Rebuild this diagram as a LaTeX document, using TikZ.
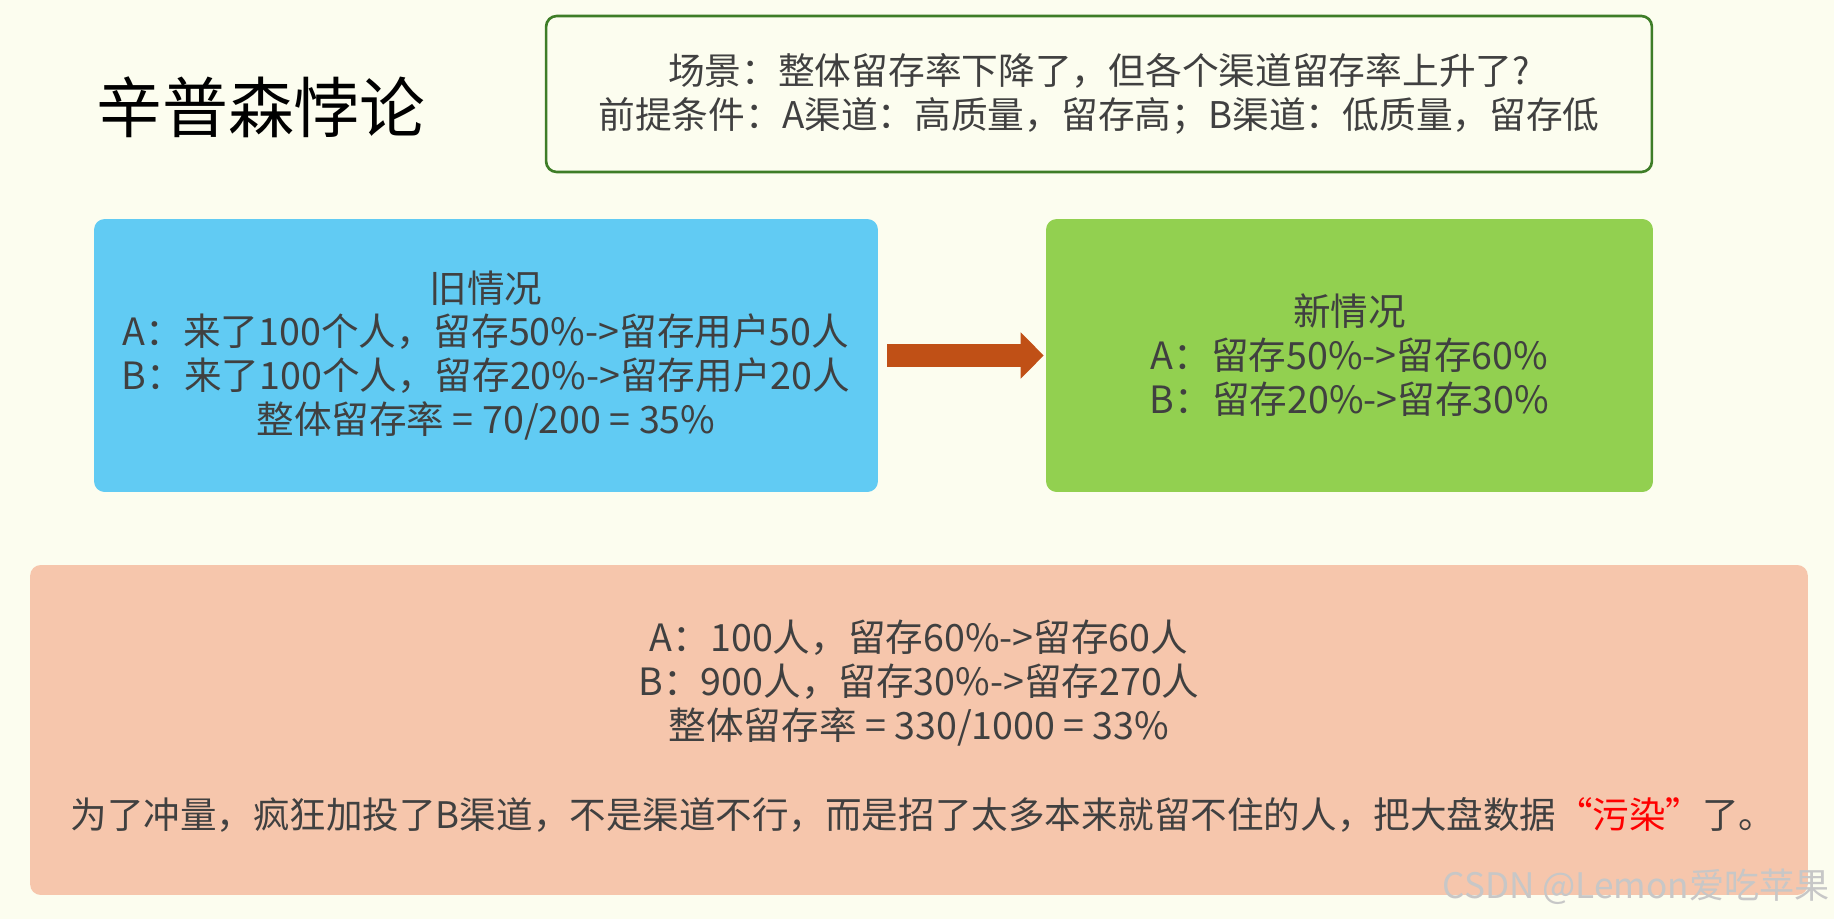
\documentclass[tikz,border=0pt]{standalone}
\usepackage{fontspec}
\setmainfont{Noto Sans CJK SC}
\usepackage{xcolor}
\usetikzlibrary{arrows.meta,positioning}
\definecolor{bgcream}{RGB}{252,253,239}
\definecolor{txtgray}{RGB}{64,64,64}
\definecolor{oldblue}{RGB}{97,203,243}
\definecolor{newgreen}{RGB}{146,208,80}
\definecolor{sumpink}{RGB}{246,198,172}
\definecolor{framegreen}{RGB}{62,125,39}
\definecolor{arrowbrown}{RGB}{192,80,22}

\begin{document}
\begin{tikzpicture}[x=0.02cm, y=-0.02cm,
  card/.style={rounded corners=6pt, inner sep=0pt, align=center, text=txtgray, font=\fontsize{21.4}{25}\selectfont},
  txt/.style={align=center, text=txtgray, inner sep=0pt, font=\fontsize{21.4}{25}\selectfont},
  bigarrow/.style={-{Triangle[length=0.46cm, width=0.9cm]}, line width=0.46cm, arrowbrown}]
  \fill[bgcream] (0,0) rectangle (1834,919);
  \useasboundingbox (0,0) rectangle (1834,919);
  \node[txt, text=black, font=\fontsize{37.5}{40}\selectfont] (title) at (261,107) {辛普森悖论};
  \node[card, draw=framegreen, line width=1.5pt, minimum width=22.12cm, minimum height=3.12cm, font=\fontsize{20.9}{25}\selectfont] (scene) at (1099,94)
    {场景：整体留存率下降了，但各个渠道留存率上升了?\\前提条件：A渠道：高质量，留存高；B渠道：低质量，留存低};
  \node[card, fill=oldblue, minimum width=15.68cm, minimum height=5.46cm] (old) at (486,355.5)
    {旧情况\\A：来了100个人，留存50\%->留存用户50人\\B：来了100个人，留存20\%->留存用户20人\\整体留存率 = 70/200 = 35\%};
  \node[card, fill=newgreen, minimum width=12.14cm, minimum height=5.46cm] (new) at (1349.5,355.5)
    {新情况\\A：留存50\%->留存60\%\\B：留存20\%->留存30\%};
  \draw[bigarrow, shorten <=0.18cm, shorten >=0.04cm] (old.east) -- (new.west);
  \node[card, fill=sumpink, minimum width=35.56cm, minimum height=6.6cm] (mix) at (919,730) {};
  \node[txt] (mixstats) at (919,683)
    {A：100人，留存60\%->留存60人\\B：900人，留存30\%->留存270人\\整体留存率 = 330/1000 = 33\%};
  \node[txt, font=\fontsize{20.8}{25}\selectfont] (moral) at (923,815)
    {为了冲量，疯狂加投了B渠道，不是渠道不行，而是招了太多本来就留不住的人，把大盘数据\textcolor{red}{“污染”}了。};
  \node[txt, text=black!22, font=\fontsize{20}{22}\selectfont, anchor=east] (mark) at (1830,887) {CSDN @Lemon爱吃苹果};
\end{tikzpicture}
\end{document}
